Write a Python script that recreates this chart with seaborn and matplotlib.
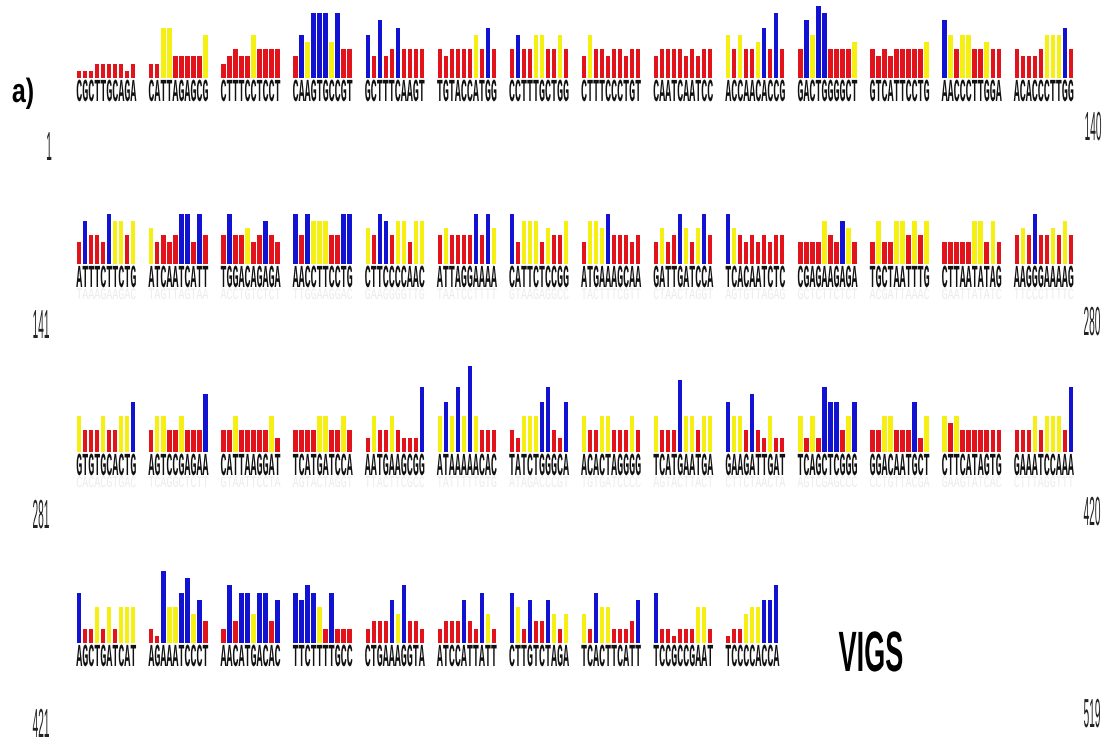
import matplotlib
matplotlib.use("Agg")
import matplotlib.pyplot as plt
from matplotlib.patheffects import AbstractPathEffect
from matplotlib.transforms import Affine2D
import seaborn as sns
import pandas as pd
import numpy as np

# sequence blocks (10 nt each), colour class of every bar and bar heights
seq_rows = [
    ["CGCTTGCAGA", "CATTAGAGCG", "CTTTCCTCCT", "CAAGTGCCGT", "GCTTTCAAGT", "TGTACCATGG", "CCTTTGCTGG",
     "CTTTCCCTGT", "CAATCAATCC", "ACCAACACCG", "GACTGGGGCT", "GTCATTCCTG", "AACCCTTGGA", "ACACCCTTGG"],
    ["ATTTCTTCTG", "ATCAATCATT", "TGGACAGAGA", "AACCTTCCTG", "CTTCCCCAAC", "ATTAGGAAAA", "CATTCTCCGG",
     "ATGAAAGCAA", "GATTGATCCA", "TCACAATCTC", "CGAGAAGAGA", "TGCTAATTTG", "CTTAATATAG", "AAGGGAAAAG"],
    ["GTGTGCACTG", "AGTCCGAGAA", "CATTAAGGAT", "TCATGATCCA", "AATGAAGCGG", "ATAAAAACAC", "TATCTGGGCA",
     "ACACTAGGGG", "TCATGAATGA", "GAAGATTGAT", "TCAGCTCGGG", "GGACAATGCT", "CTTCATAGTG", "GAAATCCAAA"],
    ["AGCTGATCAT", "AGAAATCCCT", "AACATGACAC", "TTCTTTTGCC", "CTGAAAGGTA", "ATCCATTATT", "CTTGTCTAGA",
     "TCACTTCATT", "TCCGCCGAAT", "TCCCCACCA"],
]

col_rows = [
    ["rrrrrrrrrr", "rryyrrrrry", "rrrrryrrrr", "rbybbbybrr", "brbrrbrrrr", "rrrrrryrbr", "rbrryyrryr",
     "ryrrrrrrrr", "rrrrrrrrrr", "yryrrybrbr", "rbybbrrrry", "rrrrrrrrry", "byryyrryrr", "rrrrryyybr"],
    ["rbrrrbyyry", "yrrrrbbrbr", "rbrryrrbrr", "brbyyyrrbb", "yrbbryyryy", "ryrrrrbrby", "bryyyryrry",
     "ryyybrrrrr", "ryrrbyrybr", "byrrrrrrrr", "rrrryrrbyr", "ryrryyryry", "rrrrryyryr", "ryrbrryryr"],
    ["yrrryrryyb", "ryyrryrrrb", "rryrrrrryr", "rrrryyrryr", "ryrryrrrrb", "ybybybyrrr", "rryyybbrrb",
     "yrryyrrryr", "yrrrbyyryy", "byyrbrryrr", "yryrbbbryb", "rryyrrrbry", "yryrrrrrrr", "rrryryyyrb"],
    ["brryryryyy", "rrbyybbybr", "rbrbbybbrb", "bbbbyrbrrr", "rrrrbybrrr", "rrrrbrrbyr", "byrbrrbyry",
     "yrbyyrrrrb", "brrrrrryyr", "rrryyybbb"],
]

h_rows = [
    [[1, 1, 1, 2, 2, 2, 2, 2, 1, 2], [2, 2, 7, 7, 3, 3, 3, 3, 3, 6], [2, 3, 4, 3, 3, 6, 4, 4, 4, 4],
     [3, 6, 5, 9, 9, 9, 5, 9, 4, 4], [6, 3, 8, 3, 4, 7, 4, 4, 4, 4], [4, 3, 4, 4, 4, 4, 6, 4, 7, 4],
     [4, 6, 4, 4, 6, 6, 4, 4, 6, 4], [3, 6, 4, 4, 3, 4, 4, 3, 4, 4], [3, 4, 4, 4, 4, 3, 4, 3, 4, 4],
     [6, 4, 6, 4, 4, 5, 7, 4, 9, 4], [4, 8, 6, 10, 9, 4, 4, 4, 4, 5], [4, 3, 4, 3, 4, 4, 4, 4, 4, 5],
     [8, 6, 4, 6, 6, 4, 4, 5, 4, 4], [4, 3, 3, 3, 4, 6, 6, 6, 7, 4]],
    [[3, 6, 4, 4, 3, 7, 6, 6, 4, 6], [5, 3, 4, 3, 4, 7, 7, 3, 7, 4], [4, 7, 4, 4, 5, 3, 4, 6, 4, 3],
     [7, 4, 7, 6, 6, 6, 4, 4, 7, 7], [5, 4, 7, 6, 4, 6, 6, 3, 6, 6], [4, 5, 4, 4, 4, 4, 7, 4, 7, 5],
     [7, 3, 6, 6, 6, 3, 5, 4, 4, 6], [3, 6, 6, 5, 7, 4, 4, 4, 3, 4], [3, 5, 3, 4, 7, 5, 3, 5, 7, 4],
     [7, 5, 4, 3, 4, 3, 4, 3, 4, 4], [3, 3, 3, 3, 6, 4, 3, 6, 5, 3], [3, 6, 3, 3, 6, 6, 4, 6, 4, 6],
     [3, 3, 3, 3, 3, 6, 6, 3, 6, 3], [4, 5, 4, 7, 4, 4, 5, 4, 6, 4]],
    [[5, 3, 3, 3, 5, 3, 3, 5, 5, 7], [3, 5, 5, 3, 3, 5, 3, 3, 3, 8], [3, 3, 5, 3, 3, 3, 3, 3, 5, 2],
     [3, 3, 3, 3, 5, 5, 3, 3, 5, 3], [2, 5, 3, 3, 5, 3, 2, 2, 2, 9], [5, 7, 5, 9, 5, 12, 5, 3, 3, 3],
     [3, 2, 5, 5, 5, 7, 9, 3, 2, 7], [5, 3, 3, 5, 5, 3, 3, 3, 5, 3], [5, 3, 3, 3, 10, 5, 5, 3, 5, 5],
     [7, 5, 5, 3, 8, 3, 2, 5, 2, 2], [5, 2, 5, 2, 9, 7, 7, 3, 5, 7], [3, 3, 5, 5, 3, 3, 3, 7, 2, 5],
     [5, 4, 5, 3, 3, 3, 3, 3, 3, 3], [3, 3, 3, 5, 3, 5, 5, 5, 3, 9]],
    [[7, 2, 2, 5, 2, 5, 2, 5, 5, 5], [2, 1, 10, 5, 5, 7, 9, 4, 6, 3], [2, 8, 3, 7, 7, 4, 7, 7, 3, 6],
     [7, 6, 8, 7, 5, 2, 7, 2, 2, 2], [2, 3, 3, 3, 6, 4, 8, 3, 3, 2], [2, 3, 3, 3, 6, 3, 2, 7, 4, 2],
     [7, 5, 2, 6, 3, 3, 6, 4, 2, 4], [4, 2, 7, 5, 5, 2, 2, 2, 3, 6], [7, 2, 2, 1, 2, 2, 2, 5, 5, 2],
     [1, 2, 2, 4, 5, 5, 6, 6, 8]],
]

start_labels = ["1", "141", "281", "421"]
end_labels = ["140", "280", "420", "519"]

palette = {"r": "#e3131b", "y": "#f5ef12", "b": "#1212d2"}


class Tall(AbstractPathEffect):
    """stretch glyphs upwards from the baseline (the figure uses tall narrow lettering)"""
    def __init__(self, sy):
        super().__init__()
        self.sy = sy

    def draw_path(self, renderer, gc, tpath, affine, rgbFace=None):
        renderer.draw_path(gc, tpath, Affine2D().scale(1, self.sy) + affine, rgbFace)


W, H = 1113, 751
fig = plt.figure(figsize=(W / 100, H / 100), dpi=100)

baselines = [78, 264, 452, 643]
unit = 7.2  # px per height unit
block_gap = 12
xmin, xmax = -0.7, 13 * block_gap + 9.7
pitch = 1000 / (xmax - xmin)
seq_fs = pitch / (0.6 * 100 / 72)   # one mono character per bar
comp = str.maketrans("ACGT", "TGCA")

for r in range(4):
    pos, hh, cc = [], [], []
    for b, (cols, hs) in enumerate(zip(col_rows[r], h_rows[r])):
        for j, (c, h) in enumerate(zip(cols, hs)):
            pos.append(b * block_gap + j)
            hh.append(h)
            cc.append(c)
    df = pd.DataFrame({"pos": pos, "h": hh, "cls": cc})

    base = baselines[r]
    ax = fig.add_axes([75 / W, 1 - (base + 5 * unit) / H, 1000 / W, 18 * unit / H])
    sns.barplot(data=df, x="pos", y="h", hue="cls", palette=palette, hue_order=["r", "y", "b"],
                native_scale=True, dodge=False, width=0.72, saturation=1, errorbar=None,
                legend=False, ax=ax)
    ax.set_xlim(xmin, xmax)
    ax.set_ylim(-5, 13)
    ax.axis("off")

    for b, s in enumerate(seq_rows[r]):
        cx = b * block_gap + (len(s) - 1) / 2
        ax.text(cx, -23 / unit, s, ha="center", va="baseline", fontsize=seq_fs,
                family="Liberation Mono", fontweight="bold", color="#111111",
                path_effects=[Tall(3.2)])
        if r in (1, 2):
            ax.text(cx, -35 / unit, s.translate(comp), ha="center", va="baseline", fontsize=seq_fs,
                    family="Liberation Mono", color="#ececec", path_effects=[Tall(1.6)])

# row numbers (baseline positions in px)
left_pos = [(49, 160), (41, 338), (41, 528), (41, 737)]
right_pos = [(1093, 140), (1092, 335), (1092, 525), (1092, 727)]
for lab, (x, y) in zip(start_labels, left_pos):
    fig.text(x / W, 1 - y / H, lab, ha="center", va="baseline", fontsize=7.3,
             family="Liberation Sans", color="#222222", path_effects=[Tall(4.0)])
for lab, (x, y) in zip(end_labels, right_pos):
    fig.text(x / W, 1 - y / H, lab, ha="center", va="baseline", fontsize=7.3,
             family="Liberation Sans", color="#222222", path_effects=[Tall(4.0)])

fig.text(23 / W, 1 - 102 / H, "a)", ha="center", va="baseline", fontsize=18,
         family="Liberation Sans", fontweight="bold", path_effects=[Tall(1.35)])
fig.text(871 / W, 1 - 671 / H, "VIGS", ha="center", va="baseline", fontsize=19.5,
         family="Liberation Sans", fontweight="bold", path_effects=[Tall(2.1)])

fig.savefig("out.png", dpi=100)
